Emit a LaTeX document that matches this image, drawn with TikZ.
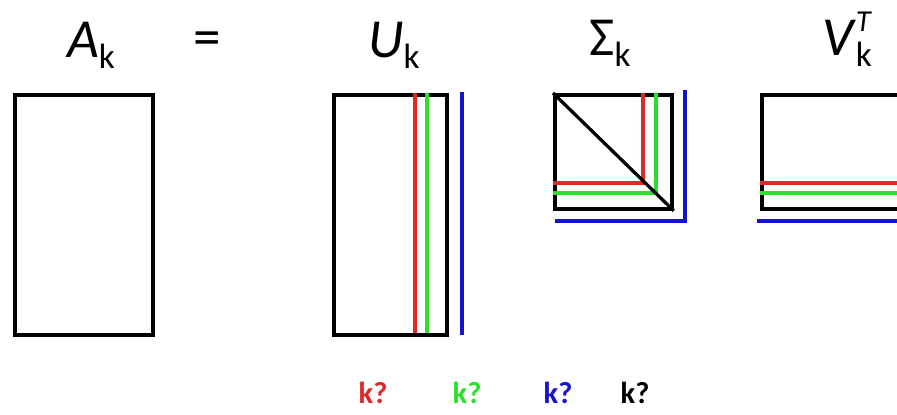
\documentclass[tikz,border=0pt]{standalone}
\usepackage{fontspec}
\setmainfont{Carlito}
\definecolor{kred}{RGB}{225,40,40}
\definecolor{kgreen}{RGB}{40,225,40}
\definecolor{kblue}{RGB}{20,20,205}
\newcommand{\mtxname}[2]{#1\raisebox{-0.45ex}{\fontsize{30}{32}\selectfont #2}}
\tikzset{
  mtx/.style={draw,line width=3.2pt,inner sep=0pt,anchor=north west},
  mlabel/.style={anchor=base,font=\fontsize{47}{50}\selectfont},
  kq/.style={anchor=base,font=\fontsize{26}{28}\selectfont\bfseries},
  rank/.style={line width=3pt}
}
\begin{document}
\begin{tikzpicture}[x=0.03cm,y=-0.03cm]
  \useasboundingbox (0,0) rectangle (897,414);
  % matrices
  \node[mtx,minimum width=138*0.03cm,minimum height=240*0.03cm] (A) at (13,93) {};
  \node[mtx,minimum width=113*0.03cm,minimum height=240*0.03cm] (U) at (332,93) {};
  \node[mtx,minimum width=117*0.03cm,minimum height=114*0.03cm] (S) at (553,93) {};
  \node[mtx,minimum width=150*0.03cm,minimum height=114*0.03cm] (V) at (760,93) {};
  % names
  \node[mlabel] (lA) at (91,57) {\mtxname{\textit{A}}{k}};
  \node[mlabel] (eq) at (207,55) {=};
  \node[mlabel] (lU) at (394,57) {\mtxname{\textit{U}}{k}};
  \node[mlabel] (lS) at (610,55) {\mtxname{Σ}{k}};
  \node[mlabel] (lV) at (847,55) {\textit{V}\rlap{\raisebox{0.9ex}{\fontsize{26}{28}\selectfont\textit{T}}}\raisebox{-0.45ex}{\fontsize{30}{32}\selectfont k}};
  % truncation of U
  \draw[rank,kred] (415,93) -- (415,333);
  \draw[rank,kgreen] (427,93) -- (427,333);
  \draw[rank,kblue] (462,92) -- (462,335);
  % truncation of Sigma
  \draw[rank,kred] (643,93) -- (643,183) -- (553,183);
  \draw[rank,kgreen] (656,93) -- (656,193) -- (553,193);
  \draw[line width=2.8pt] (S.north west) -- (S.south east);
  \draw[rank,kblue] (685,90) -- (685,221) -- (555,221);
  % truncation of V^T
  \draw[rank,kred] (760,183) -- (897,183);
  \draw[rank,kgreen] (760,193) -- (897,193);
  \draw[rank,kblue] (757,221) -- (897,221);
  % choices of k
  \node[kq,kred] (k1) at (373,403) {k?};
  \node[kq,kgreen] (k2) at (467,403) {k?};
  \node[kq,kblue] (k3) at (558,403) {k?};
  \node[kq] (k4) at (635,403) {k?};
\end{tikzpicture}
\end{document}
